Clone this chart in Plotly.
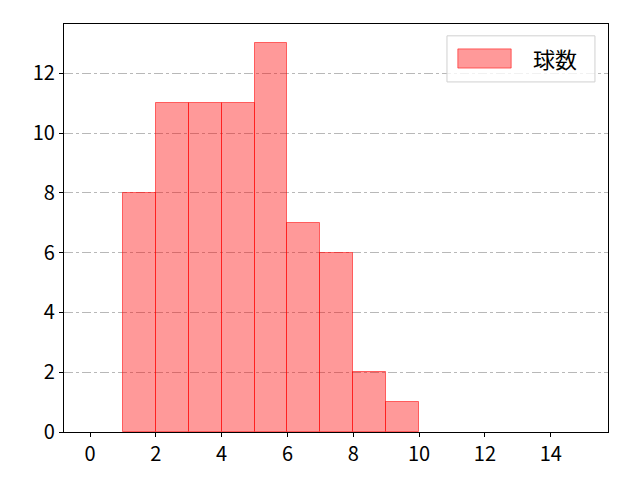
import plotly.graph_objects as go

bin_left = [1, 2, 3, 4, 5, 6, 7, 8, 9]
counts = [8, 11, 11, 11, 13, 7, 6, 2, 1]
x_ticks = [0, 2, 4, 6, 8, 10, 12, 14]
y_ticks = [0, 2, 4, 6, 8, 10, 12]
legend_label = "球数"

centers = [b + 0.5 for b in bin_left]
bar_fill = "rgba(255,0,0,0.4)"
bar_edge = "rgba(255,0,0,0.55)"

fig = go.Figure()
fig.add_trace(go.Bar(
    x=centers, y=counts, width=1, name=legend_label,
    marker=dict(color=bar_fill, line=dict(color=bar_edge, width=1)),
    showlegend=False,
))

axis_common = dict(
    showline=True, linecolor="black", linewidth=1.2, mirror=True,
    ticks="outside", ticklen=4, tickcolor="black",
    tickfont=dict(family="Noto Sans CJK JP", size=20, color="black"), zeroline=False,
)

# page body has an 8px margin, so shift the plot area accordingly
fig.update_layout(
    width=640, height=480,
    margin=dict(l=56, r=40, t=16, b=56),
    plot_bgcolor="white", paper_bgcolor="white",
    font=dict(family="Noto Sans CJK JP", color="black"),
    bargap=0,
    xaxis=dict(range=[-0.79, 15.74], tickvals=x_ticks, showgrid=False, **axis_common),
    yaxis=dict(range=[0, 13.65], tickvals=y_ticks, showgrid=True,
               gridcolor="#b8b8b8", griddash="dashdot", gridwidth=1, **axis_common),
)

# matplotlib-like legend box
fig.add_shape(type="rect", xref="paper", yref="paper",
              x0=0.704, x1=0.976, y0=0.858, y1=0.971,
              line=dict(color="#d0d0d0", width=1), fillcolor="rgba(255,255,255,0.8)")
fig.add_shape(type="rect", xref="paper", yref="paper",
              x0=0.724, x1=0.822, y0=0.892, y1=0.939,
              line=dict(color=bar_edge, width=1), fillcolor=bar_fill)
fig.add_annotation(xref="paper", yref="paper", x=0.903, y=0.916,
                   text=legend_label, showarrow=False,
                   font=dict(family="Noto Sans CJK JP", size=22, color="black"),
                   xanchor="center", yanchor="middle")

fig.write_html("out.html")
